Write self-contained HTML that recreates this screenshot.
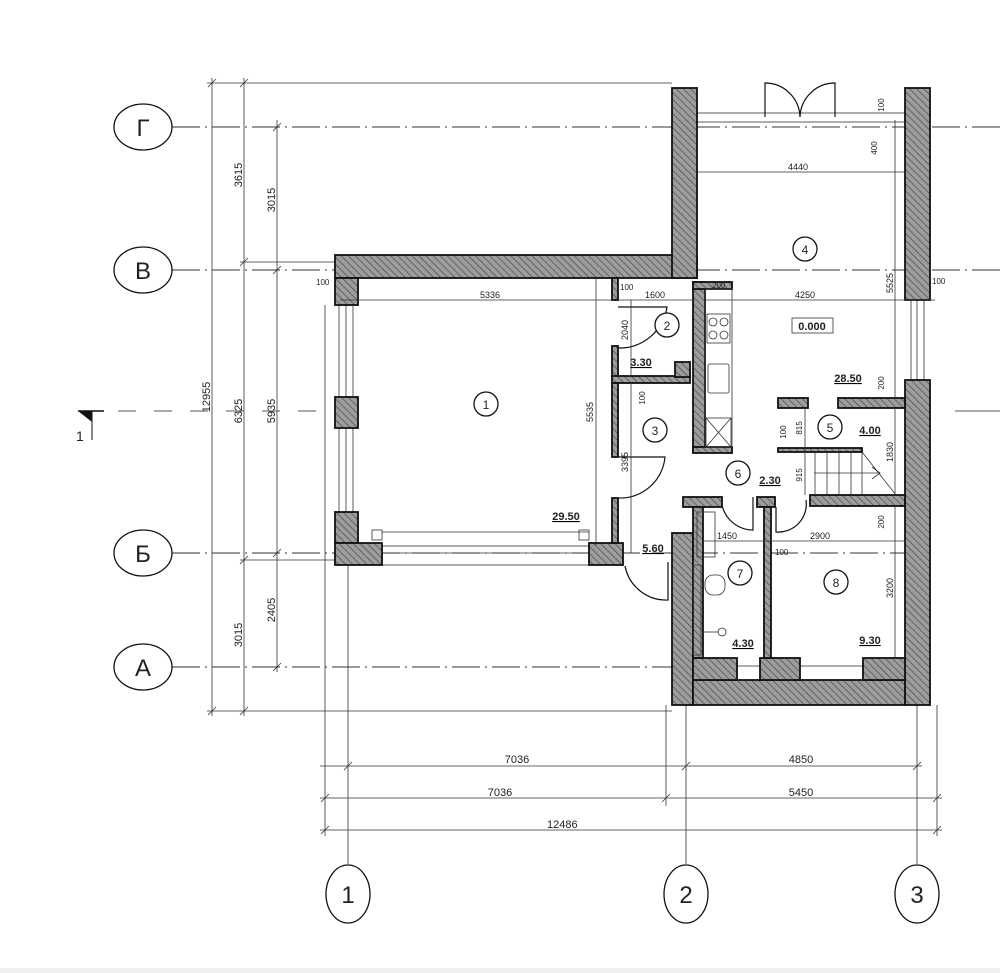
<!DOCTYPE html>
<html><head><meta charset="utf-8"><style>
html,body{margin:0;padding:0;background:#fff}
svg{display:block}
text{font-family:"Liberation Sans",sans-serif;fill:#222}
.d{font-size:9px;fill:#333}
.a{font-size:11px;font-weight:bold;text-decoration:underline}
.w{fill:url(#h);stroke:#111;stroke-width:1.8}
.t{stroke:#333;stroke-width:0.8;fill:none}
.ax{stroke:#333;stroke-width:1;stroke-dasharray:28 5 2 5;fill:none}
.c{fill:#fff;stroke:#111;stroke-width:1.3}
</style></head><body>
<svg width="1000" height="973" viewBox="0 0 1000 973" xmlns="http://www.w3.org/2000/svg">
<defs>
<pattern id="h" width="5" height="5" patternUnits="userSpaceOnUse" patternTransform="rotate(-45)">
<rect width="5" height="5" fill="#9d9d9d"/><line x1="0" y1="0" x2="0" y2="5" stroke="#444" stroke-width="1.3"/>
</pattern>
</defs>
<rect x="0" y="968" width="1000" height="5" fill="#f0f0f0"/>

<g class="ax">
<line x1="172" y1="127" x2="1000" y2="127"/>
<line x1="172" y1="270" x2="1000" y2="270"/>
<line x1="172" y1="553" x2="690" y2="553"/>
<line x1="690" y1="553" x2="905" y2="553"/>
<line x1="172" y1="667" x2="690" y2="667"/>
</g>
<g class="t">
<line x1="172" y1="127" x2="200" y2="127"/><line x1="172" y1="270" x2="200" y2="270"/><line x1="172" y1="553" x2="200" y2="553"/><line x1="172" y1="667" x2="200" y2="667"/>
</g>
<ellipse class="c" cx="143" cy="127" rx="29" ry="23"/><text x="143" y="136" font-size="24" text-anchor="middle">Г</text>
<ellipse class="c" cx="143" cy="270" rx="29" ry="23"/><text x="143" y="279" font-size="24" text-anchor="middle">В</text>
<ellipse class="c" cx="143" cy="553" rx="29" ry="23"/><text x="143" y="562" font-size="24" text-anchor="middle">Б</text>
<ellipse class="c" cx="143" cy="667" rx="29" ry="23"/><text x="143" y="676" font-size="24" text-anchor="middle">А</text>

<g class="t">
<line x1="212" y1="78" x2="212" y2="716"/><line x1="244" y1="78" x2="244" y2="716"/><line x1="277" y1="120" x2="277" y2="672"/>
<line x1="207" y1="83" x2="672" y2="83"/><line x1="207" y1="711" x2="672" y2="711"/>
<line x1="240" y1="262" x2="335" y2="262"/><line x1="240" y1="560" x2="335" y2="560"/>
<line x1="208" y1="87" x2="216" y2="79"/><line x1="240" y1="87" x2="248" y2="79"/><line x1="208" y1="715" x2="216" y2="707"/><line x1="240" y1="715" x2="248" y2="707"/>
<line x1="240" y1="266" x2="248" y2="258"/><line x1="240" y1="564" x2="248" y2="556"/>
<line x1="273" y1="131" x2="281" y2="123"/><line x1="273" y1="274" x2="281" y2="266"/><line x1="273" y1="557" x2="281" y2="549"/><line x1="273" y1="671" x2="281" y2="663"/>
</g>
<g class="d">
<text transform="translate(210,397) rotate(-90)" text-anchor="middle" font-size="11">12955</text>
<text transform="translate(242,175) rotate(-90)" text-anchor="middle" font-size="11">3615</text>
<text transform="translate(242,411) rotate(-90)" text-anchor="middle" font-size="11">6325</text>
<text transform="translate(242,635) rotate(-90)" text-anchor="middle" font-size="11">3015</text>
<text transform="translate(275,200) rotate(-90)" text-anchor="middle" font-size="11">3015</text>
<text transform="translate(275,411) rotate(-90)" text-anchor="middle" font-size="11">5935</text>
<text transform="translate(275,610) rotate(-90)" text-anchor="middle" font-size="11">2405</text>
</g>
<path d="M78 411 L92 411 L92 422 Z" fill="#111"/><line x1="78" y1="411" x2="104" y2="411" stroke="#111" stroke-width="1.5"/>
<line x1="92" y1="411" x2="92" y2="440" stroke="#111" stroke-width="1"/>
<text x="76" y="441" font-size="14">1</text>
<line x1="118" y1="411" x2="325" y2="411" stroke="#555" stroke-dasharray="18 18"/>
<line x1="955" y1="411" x2="1000" y2="411" stroke="#555"/>

<g class="t">
<line x1="325" y1="305" x2="325" y2="836"/><line x1="666" y1="705" x2="666" y2="806"/><line x1="937" y1="705" x2="937" y2="836"/>
<line x1="348" y1="565" x2="348" y2="864"/><line x1="686" y1="705" x2="686" y2="864"/><line x1="917" y1="705" x2="917" y2="864"/>
<line x1="320" y1="766" x2="922" y2="766"/><line x1="320" y1="798" x2="942" y2="798"/><line x1="320" y1="830" x2="942" y2="830"/>
<line x1="344" y1="770" x2="352" y2="762"/><line x1="682" y1="770" x2="690" y2="762"/><line x1="913" y1="770" x2="921" y2="762"/>
<line x1="321" y1="802" x2="329" y2="794"/><line x1="662" y1="802" x2="670" y2="794"/><line x1="933" y1="802" x2="941" y2="794"/>
<line x1="321" y1="834" x2="329" y2="826"/><line x1="933" y1="834" x2="941" y2="826"/>
</g>
<g class="d">
<text x="517" y="763" font-size="11" text-anchor="middle">7036</text><text x="801" y="763" font-size="11" text-anchor="middle">4850</text>
<text x="500" y="796" font-size="11" text-anchor="middle">7036</text><text x="801" y="796" font-size="11" text-anchor="middle">5450</text>
<text x="547" y="828" font-size="11">12486</text>
</g>
<ellipse class="c" cx="348" cy="894" rx="22" ry="29"/><text x="348" y="903" font-size="24" text-anchor="middle">1</text>
<ellipse class="c" cx="686" cy="894" rx="22" ry="29"/><text x="686" y="903" font-size="24" text-anchor="middle">2</text>
<ellipse class="c" cx="917" cy="894" rx="22" ry="29"/><text x="917" y="903" font-size="24" text-anchor="middle">3</text>

<g class="t" stroke-width="1">
<rect x="339" y="305" width="14" height="207"/><line x1="346" y1="305" x2="346" y2="512"/>
<rect x="382" y="546" width="207" height="19"/><line x1="382" y1="553" x2="589" y2="553"/>
<rect x="372" y="530" width="10" height="10"/><rect x="579" y="530" width="10" height="10"/>
<line x1="382" y1="532" x2="589" y2="532"/>
<rect x="697" y="113" width="208" height="9"/>
<rect x="911" y="300" width="13" height="80"/><line x1="917" y1="300" x2="917" y2="380"/>
<rect x="737" y="666" width="23" height="14"/><rect x="800" y="666" width="63" height="14"/>
<line x1="693" y1="680" x2="905" y2="680"/>
</g>
<g stroke="#111" stroke-width="1.2" fill="none">
<path d="M765 117 L765 83 A35 35 0 0 1 800 117"/><path d="M835 117 L835 83 A35 35 0 0 0 800 117"/>
<path d="M618 307 L667 307 A48 48 0 0 1 618 348"/>
<path d="M618 457 L665 457 A45 45 0 0 1 618 498"/>
<path d="M753 497 L753 530 A32 32 0 0 1 722 505"/>
<path d="M776 507 L776 532 A28 28 0 0 0 806 500"/>
<path d="M668 562 L668 600 A42 42 0 0 1 625 566"/>
</g>

<g class="w">
<rect x="335" y="255" width="362" height="23"/>
<rect x="335" y="278" width="23" height="27"/>
<rect x="335" y="397" width="23" height="31"/>
<rect x="335" y="512" width="23" height="31"/>
<rect x="335" y="543" width="47" height="22"/>
<rect x="589" y="543" width="34" height="22"/>
<rect x="672" y="88" width="25" height="190"/>
<rect x="905" y="88" width="25" height="212"/>
<rect x="905" y="380" width="25" height="325"/>
<rect x="672" y="533" width="21" height="172"/>
<rect x="693" y="680" width="212" height="25"/>
<rect x="693" y="658" width="44" height="22"/>
<rect x="760" y="658" width="40" height="22"/>
<rect x="863" y="658" width="42" height="22"/>
<rect x="693" y="282" width="12" height="170"/>
<rect x="693" y="282" width="39" height="7"/>
<rect x="693" y="447" width="39" height="6"/>
<rect x="778" y="398" width="30" height="10"/>
<rect x="838" y="398" width="67" height="10"/>
<rect x="810" y="495" width="95" height="11"/>
<rect x="683" y="497" width="39" height="10"/>
<rect x="757" y="497" width="18" height="10"/>
<rect x="693" y="507" width="10" height="151"/>
<rect x="764" y="507" width="7" height="151"/>
<rect x="612" y="278" width="6" height="22"/>
<rect x="612" y="346" width="6" height="31"/>
<rect x="612" y="376" width="78" height="7"/>
<rect x="612" y="383" width="6" height="74"/>
<rect x="612" y="498" width="6" height="45"/>
<rect x="778" y="448" width="84" height="4"/>
<rect x="675" y="362" width="15" height="15"/>
</g>
<g class="t" stroke-width="1">
<rect x="705" y="289" width="27" height="158"/>
<rect x="707" y="314" width="23" height="29"/><circle cx="713" cy="322" r="4"/><circle cx="724" cy="322" r="4"/><circle cx="713" cy="335" r="4"/><circle cx="724" cy="335" r="4"/>
<rect x="708" y="364" width="21" height="29" rx="2"/>
<rect x="706" y="418" width="25" height="29"/><line x1="706" y1="418" x2="731" y2="447"/><line x1="731" y1="418" x2="706" y2="447"/>
<rect x="697" y="512" width="18" height="45"/>
<rect x="705" y="575" width="20" height="20" rx="8"/>
<rect x="693" y="565" width="8" height="90"/>
<circle cx="722" cy="632" r="4"/><line x1="703" y1="632" x2="718" y2="632"/>
<line x1="815" y1="452" x2="815" y2="495"/><line x1="827" y1="452" x2="827" y2="495"/><line x1="839" y1="452" x2="839" y2="495"/><line x1="851" y1="452" x2="851" y2="495"/><line x1="862" y1="452" x2="862" y2="495"/>
<line x1="862" y1="452" x2="896" y2="495"/><line x1="814" y1="473" x2="878" y2="473"/><path d="M872 467 L880 473 L872 479"/>
</g>

<g class="t" stroke-width="0.7">
<line x1="340" y1="300" x2="612" y2="300"/><line x1="618" y1="300" x2="695" y2="300"/><line x1="705" y1="300" x2="935" y2="300"/>
<line x1="697" y1="172" x2="905" y2="172"/>
<line x1="596" y1="278" x2="596" y2="545"/><line x1="631" y1="300" x2="631" y2="376"/><line x1="631" y1="383" x2="631" y2="553"/>
<line x1="895" y1="120" x2="895" y2="398"/><line x1="895" y1="408" x2="895" y2="495"/><line x1="895" y1="506" x2="895" y2="658"/>
<line x1="703" y1="541" x2="905" y2="541"/><line x1="805" y1="408" x2="805" y2="495"/>
</g>
<g class="d">
<text x="490" y="298" text-anchor="middle" font-size="9">5336</text>
<text x="655" y="298" text-anchor="middle" font-size="9">1600</text>
<text x="805" y="298" text-anchor="middle" font-size="9">4250</text>
<text x="798" y="170" text-anchor="middle" font-size="9">4440</text>
<text x="727" y="539" text-anchor="middle" font-size="9">1450</text>
<text x="820" y="539" text-anchor="middle" font-size="9">2900</text>
<text x="775" y="555" font-size="8">100</text>
<text x="620" y="290" font-size="8">100</text>
<text x="316" y="285" font-size="8">100</text>
<text x="932" y="284" font-size="8">100</text>
<text x="712" y="288" font-size="8">200</text>
<text transform="translate(593,412) rotate(-90)" text-anchor="middle" font-size="9">5535</text>
<text transform="translate(628,330) rotate(-90)" text-anchor="middle" font-size="9">2040</text>
<text transform="translate(628,462) rotate(-90)" text-anchor="middle" font-size="9">3395</text>
<text transform="translate(645,398) rotate(-90)" text-anchor="middle" font-size="8">100</text>
<text transform="translate(893,283) rotate(-90)" text-anchor="middle" font-size="9">5525</text>
<text transform="translate(893,452) rotate(-90)" text-anchor="middle" font-size="9">1830</text>
<text transform="translate(893,588) rotate(-90)" text-anchor="middle" font-size="9">3200</text>
<text transform="translate(884,383) rotate(-90)" text-anchor="middle" font-size="8">200</text>
<text transform="translate(884,522) rotate(-90)" text-anchor="middle" font-size="8">200</text>
<text transform="translate(802,428) rotate(-90)" text-anchor="middle" font-size="8">815</text>
<text transform="translate(802,475) rotate(-90)" text-anchor="middle" font-size="8">915</text>
<text transform="translate(786,432) rotate(-90)" text-anchor="middle" font-size="8">100</text>
<text transform="translate(877,148) rotate(-90)" text-anchor="middle" font-size="8">400</text>
<text transform="translate(884,105) rotate(-90)" text-anchor="middle" font-size="8">100</text>
</g>

<g text-anchor="middle">
<circle class="c" cx="486" cy="404" r="12"/><text x="486" y="409" font-size="12">1</text>
<circle class="c" cx="667" cy="325" r="12"/><text x="667" y="330" font-size="12">2</text>
<circle class="c" cx="655" cy="430" r="12"/><text x="655" y="435" font-size="12">3</text>
<circle class="c" cx="805" cy="249" r="12"/><text x="805" y="254" font-size="12">4</text>
<circle class="c" cx="830" cy="427" r="12"/><text x="830" y="432" font-size="12">5</text>
<circle class="c" cx="738" cy="473" r="12"/><text x="738" y="478" font-size="12">6</text>
<circle class="c" cx="740" cy="573" r="12"/><text x="740" y="578" font-size="12">7</text>
<circle class="c" cx="836" cy="582" r="12"/><text x="836" y="587" font-size="12">8</text>
</g>
<g class="a" text-anchor="middle">
<text x="566" y="520">29.50</text><text x="641" y="366">3.30</text><text x="653" y="552">5.60</text>
<text x="848" y="382">28.50</text><text x="870" y="434">4.00</text><text x="770" y="484">2.30</text>
<text x="743" y="647">4.30</text><text x="870" y="644">9.30</text>
</g>
<rect x="792" y="318" width="41" height="15" fill="none" stroke="#333" stroke-width="0.8"/>
<text x="812" y="330" font-size="11" font-weight="bold" text-anchor="middle">0.000</text>
</svg>
</body></html>
